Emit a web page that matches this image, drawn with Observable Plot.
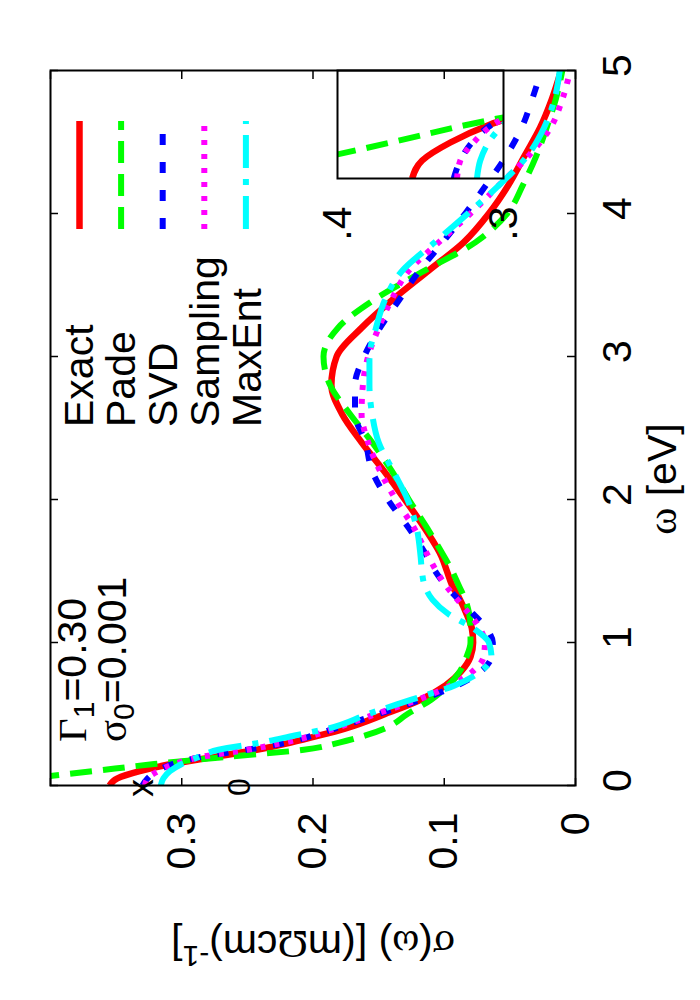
<!DOCTYPE html>
<html><head><meta charset="utf-8">
<script src="https://cdn.jsdelivr.net/npm/d3@7"></script>
<script src="https://cdn.jsdelivr.net/npm/@observablehq/plot@0.6"></script>
<style>
html,body{margin:0;padding:0;background:#fff;}
#rot{position:absolute;left:0;top:0;width:1000px;height:700px;transform-origin:0 0;transform:translate(0px,1000px) rotate(-90deg);}
#rot > svg{position:absolute;}
</style></head>
<body><div id="rot"></div>
<script>
// ---- data ----
const omega = [0,0.05,0.1,0.15,0.2,0.25,0.3,0.35,0.4,0.5,0.6,0.7,0.8,0.9,1.0,1.1,1.2,1.3,1.4,1.5,1.6,1.8,2.0,2.2,2.4,2.6,2.8,3.0,3.2,3.4,3.6,3.8,4.0,4.2,4.4,4.6,4.8,5.0];
const exact = [0.355,0.349,0.332,0.308,0.275,0.243,0.217,0.195,0.175,0.145,0.118,0.099,0.087,0.08,0.078,0.079,0.083,0.088,0.094,0.098,0.102,0.115,0.13,0.146,0.163,0.178,0.186,0.182,0.163,0.139,0.112,0.085,0.066,0.051,0.039,0.027,0.018,0.011];
const pade = [0.46,0.416,0.368,0.321,0.266,0.207,0.18,0.16,0.145,0.128,0.11,0.097,0.088,0.083,0.08,0.08,0.081,0.084,0.089,0.094,0.1,0.113,0.127,0.14,0.155,0.172,0.187,0.192,0.181,0.153,0.115,0.076,0.052,0.04,0.03,0.022,0.015,0.01];
const svd = [0.33,0.326,0.319,0.307,0.285,0.25,0.22,0.2,0.183,0.15,0.118,0.09,0.072,0.064,0.063,0.068,0.078,0.089,0.099,0.107,0.113,0.127,0.143,0.155,0.16,0.168,0.168,0.161,0.149,0.134,0.119,0.101,0.084,0.068,0.053,0.041,0.033,0.026];
const sampling = [0.328,0.326,0.318,0.306,0.285,0.25,0.222,0.2,0.183,0.152,0.12,0.095,0.078,0.07,0.069,0.073,0.081,0.09,0.099,0.106,0.112,0.123,0.137,0.149,0.158,0.163,0.162,0.158,0.15,0.14,0.127,0.104,0.08,0.058,0.036,0.019,0.01,0.004];
const maxent = [0.316,0.314,0.309,0.3,0.287,0.272,0.24,0.214,0.188,0.158,0.125,0.092,0.072,0.064,0.066,0.078,0.097,0.109,0.115,0.117,0.118,0.121,0.128,0.139,0.15,0.155,0.157,0.157,0.152,0.145,0.132,0.107,0.082,0.058,0.037,0.024,0.016,0.012];
const names = ["Exact","Pade","SVD","Sampling","MaxEnt"];
const xTicks = [0,1,2,3,4,5];
const yTicks = [0,0.1,0.2,0.3];
const yTickMarks = [0,0.1,0.2,0.3,0.4];
const insetYTicks = [0.3,0.4];

// ---- styling ----
const SANS = "'Liberation Sans', Arial, Helvetica, sans-serif";
const SERIF = "'Liberation Serif', 'Times New Roman', serif";
const styles = [
  {values: exact, color:"#ff0000", dash:null, width:6.5},
  {values: pade, color:"#00ff00", dash:"22,11", width:6},
  {values: svd, color:"#0000ff", dash:"11,17", width:6},
  {values: sampling, color:"#ff00ff", dash:"5,9", width:6},
  {values: maxent, color:"#00ffff", dash:"33,11,6,11", width:6}
];
const W=1000, H=700, mL=214, mR=71, mT=50, mB=125;
const innerW = W-mL-mR, innerH = H-mT-mB;
const FS = 41;

const lineMarks = () => styles.map(s => Plot.line(omega, {
  x: d => d, y: (d,i) => s.values[i], stroke: s.color, strokeWidth: s.width,
  strokeDasharray: s.dash, strokeLinecap: "butt", strokeLinejoin: "round",
  curve: "monotone-x", clip: true
}));

const main = Plot.plot({
  width: W, height: H, marginLeft: mL, marginRight: mR, marginTop: mT, marginBottom: mB,
  style: {fontFamily: SANS, fontSize: FS+"px", background: "transparent", color: "black", overflow: "visible"},
  x: {domain: [0,5]},
  y: {domain: [0,0.4]},
  marks: [
    ...lineMarks(),
    Plot.ruleX(xTicks, {x: d=>d, insetTop: innerH-8, stroke:"black", strokeWidth:1.5}),
    Plot.ruleX(xTicks, {x: d=>d, insetBottom: innerH-8, stroke:"black", strokeWidth:1.5}),
    Plot.ruleY(yTickMarks, {y: d=>d, insetRight: innerW-8, stroke:"black", strokeWidth:1.5}),
    Plot.ruleY(yTickMarks, {y: d=>d, insetLeft: innerW-8, stroke:"black", strokeWidth:1.5}),
    Plot.frame({stroke:"black", strokeWidth:2}),
    Plot.axisX({ticks: xTicks, tickFormat: d=>String(d), tickSize: 0, tickPadding: 26, dx: 5, label: null, fontSize: FS}),
    Plot.axisY({ticks: yTicks, tickFormat: d=>String(d), tickSize: 0, tickPadding: 27, label: null, fontSize: FS})
  ]
});
main.style.left = "0px"; main.style.top = "0px";

// inset: zoom on the low-frequency end
const iL = 60, iT = 20, iW = 108, iH = 166;
const inset = Plot.plot({
  width: iL+iW, height: iT+iH+20, marginLeft: iL, marginRight: 0, marginTop: iT, marginBottom: 20,
  style: {fontFamily: SANS, fontSize: FS+"px", background: "transparent", color: "black", overflow: "visible"},
  x: {domain: [0,0.3], axis: null},
  y: {domain: [0.3,0.4]},
  marks: [
    ...lineMarks(),
    Plot.frame({stroke:"black", strokeWidth:2}),
    Plot.axisY({ticks: insetYTicks, tickFormat: d=>String(d).replace(/^0/,""), tickSize: 0, tickPadding: 28, label: null, fontSize: FS})
  ]
});
inset.style.left = (821-iL)+"px"; inset.style.top = (337-iT)+"px";

// overlay: legend, annotations, axis titles
const ov = d3.create("svg").attr("width",W).attr("height",H)
  .style("position","absolute").style("left","0px").style("top","0px").style("overflow","visible")
  .attr("font-family", SANS).attr("font-size", FS).attr("fill","black");

names.forEach((n,i) => {
  ov.append("text").attr("x",573).attr("y",93+42*i).text(n);
  const s = styles[i];
  const ly = 79.5 + 41.6*i;
  ov.append("line").attr("x1",771).attr("x2",879).attr("y1",ly).attr("y2",ly)
    .attr("stroke",s.color).attr("stroke-width",s.width)
    .attr("stroke-dasharray",s.dash).attr("stroke-linecap","butt");
});

const g1 = ov.append("text").attr("x",258).attr("y",86);
g1.append("tspan").attr("font-family",SERIF).text("Γ");
g1.append("tspan").attr("font-size",30).attr("dy",8).text("1");
g1.append("tspan").attr("dy",-8).text("=0.30");
const g2 = ov.append("text").attr("x",258).attr("y",126);
g2.append("tspan").attr("font-family",SERIF).text("σ");
g2.append("tspan").attr("font-size",30).attr("dy",8).text("0");
g2.append("tspan").attr("dy",-8).text("=0.001");

ov.append("text").attr("x",212).attr("y",153).attr("text-anchor","middle").attr("font-size",36).text("x");
ov.append("text").attr("x",213).attr("y",250).attr("text-anchor","middle").attr("font-size",32).text("0");

const xl = ov.append("text").attr("x",521).attr("y",676).attr("text-anchor","middle");
xl.append("tspan").attr("font-family",SERIF).text("ω");
xl.append("tspan").text(" [eV]");

const yl = ov.append("text").attr("transform","translate(69,313) rotate(-90)").attr("text-anchor","middle");
yl.append("tspan").attr("font-family",SERIF).text("σ");
yl.append("tspan").text("(");
yl.append("tspan").attr("font-family",SERIF).text("ω");
yl.append("tspan").text(") [(m");
yl.append("tspan").attr("font-family",SERIF).text("Ω");
yl.append("tspan").text("cm)");
yl.append("tspan").attr("font-size",30).attr("dy",-15).text("-1");
yl.append("tspan").attr("dy",15).text("]");

const rot = document.getElementById("rot");
rot.appendChild(main);
rot.appendChild(inset);
rot.appendChild(ov.node());
</script>
</body></html>
